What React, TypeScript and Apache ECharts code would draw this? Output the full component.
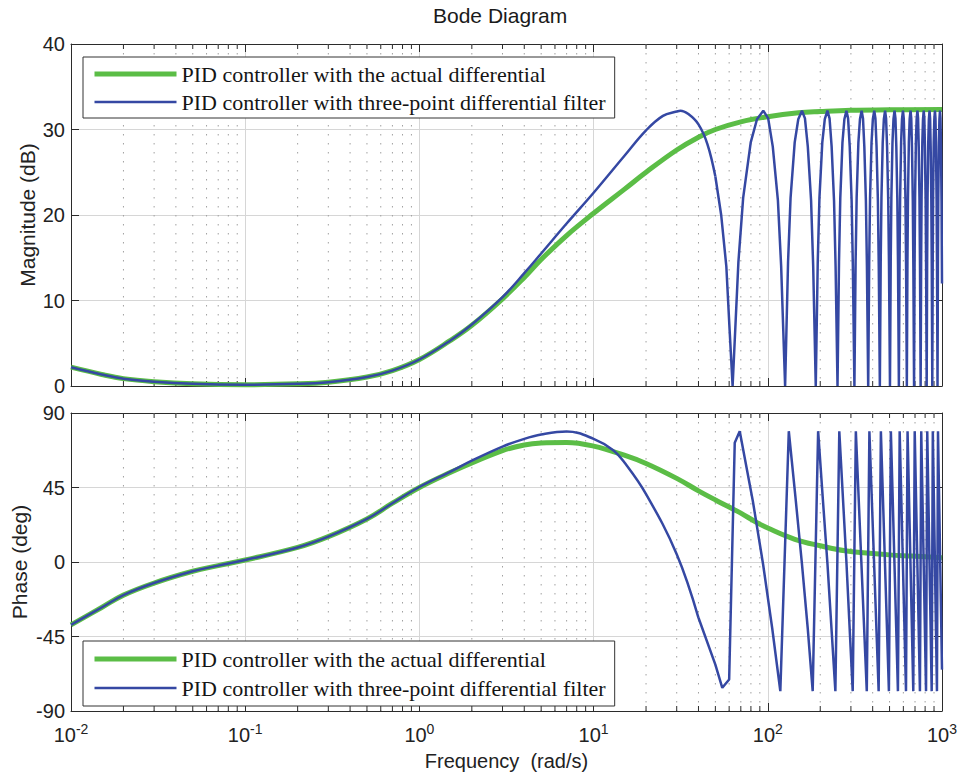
import React, { useEffect, useRef } from 'react';
import * as echarts from 'echarts';

const chartTitle = 'Bode Diagram';
const nameGreen = 'PID controller with the actual differential';
const nameBlue = 'PID controller with three-point differential filter';
const xAxisName = 'Frequency  (rad/s)';
const magAxisName = 'Magnitude (dB)';
const phaseAxisName = 'Phase (deg)';

// Green: PID controller with the actual differential
const greenMagFreq = [0.01, 0.015, 0.02, 0.03, 0.05, 0.1, 0.2, 0.3, 0.5, 0.7, 1, 1.5, 2, 3, 4, 5, 7, 10, 15, 20, 30, 40, 50, 70, 100, 150, 200, 300, 500, 1000];
const greenMagDb = [2.2, 1.35, 0.86, 0.5, 0.25, 0.15, 0.25, 0.45, 1.05, 1.8, 3.1, 5.3, 7.1, 10.2, 12.7, 14.8, 17.6, 20.2, 23.0, 25.0, 27.6, 29.1, 30.0, 30.9, 31.5, 31.95, 32.1, 32.25, 32.3, 32.35];

const greenPhaseFreq = [0.01, 0.015, 0.02, 0.03, 0.05, 0.07, 0.1, 0.2, 0.3, 0.5, 0.7, 1, 1.5, 2, 3, 4, 5, 7, 10, 15, 20, 30, 40, 50, 63, 70, 86, 100, 143, 200, 278, 500, 670, 1000];
const greenPhaseDeg = [-38, -27.5, -20, -12.7, -5.6, -2.2, 1.2, 8.8, 15.3, 26, 35.5, 45, 54, 59.8, 67.3, 70.7, 71.9, 72.2, 70, 64.5, 59.5, 50.5, 43, 37.5, 32, 29.5, 24, 20.5, 13.7, 9.8, 6.8, 4.3, 3.6, 2.6];

// Blue: PID controller with three-point differential filter (smooth low-frequency part)
const blueMagLowFreq = [0.01, 0.015, 0.02, 0.03, 0.05, 0.1, 0.2, 0.3, 0.5, 0.7, 1, 1.5, 2, 3, 4, 5, 7, 10, 15, 20, 25, 30, 31.5, 35, 40, 45, 50];
const blueMagLowDb = [2.2, 1.35, 0.86, 0.5, 0.25, 0.15, 0.25, 0.45, 1.05, 1.8, 3.1, 5.3, 7.2, 10.4, 13.2, 15.5, 19.0, 22.6, 26.9, 29.9, 31.6, 32.1, 32.2, 31.8, 30.6, 28.3, 24.5];

// Blue: oscillating high-frequency part
const blueMagHighFreq = [
  50, 54, 57.8, 60.2,
  62.8, 67.8, 72.2, 79.8, 86.7, 94.2, 100.5, 106.8, 114.3, 119.3,
  125.7, 130.7, 135.1, 142.7, 149.6, 157.1, 163.4, 169.7, 177.2, 182.2,
  188.5, 193.5, 197.9, 205.5, 212.4, 219.9, 226.2, 232.5, 240, 245,
  251.3, 256.3, 260.7, 268.3, 275.2, 282.7, 289, 295.3, 302.8, 307.8,
  314.2, 319.2, 323.6, 331.2, 338.1, 345.6, 351.9, 358.2, 365.7, 370.7,
  377, 382, 386.4, 394, 400.9, 408.4, 414.7, 421, 428.5, 433.5,
  439.8, 444.8, 449.2, 456.8, 463.7, 471.2, 477.5, 483.8, 491.3, 496.3,
  502.7, 507.7, 512.1, 519.7, 526.6, 534.1, 540.4, 546.7, 554.2, 559.2,
  565.5, 570.5, 574.9, 582.5, 589.4, 596.9, 603.2, 609.5, 617, 622,
  628.3, 633.3, 637.7, 645.3, 652.2, 659.7, 666, 672.3, 679.8, 684.8,
  691.2, 696.2, 700.6, 708.2, 715.1, 722.6, 728.9, 735.2, 742.7, 747.7,
  754, 759, 763.4, 771, 777.9, 785.4, 791.7, 798, 805.5, 810.5,
  816.8, 821.8, 826.2, 833.8, 840.7, 848.2, 854.5, 860.8, 868.3, 873.3,
  879.6, 884.6, 889, 896.6, 903.5, 911, 917.3, 923.6, 931.1, 936.1,
  942.5, 947.5, 951.9, 959.5, 966.4, 973.9, 980.2, 986.5, 994, 1000,
];
const blueMagHighDb = [
  24.5, 20, 14, 7,
  0, 14.5, 22, 28.5, 31.2, 32.2, 31.3, 28, 21.7, 14,
  0, 14.5, 22, 28.5, 31.2, 32.2, 31.3, 28, 21.7, 14,
  0, 14.5, 22, 28.5, 31.2, 32.2, 31.3, 28, 21.7, 14,
  0, 14.5, 22, 28.5, 31.2, 32.2, 31.3, 28, 21.7, 14,
  0, 14.5, 22, 28.5, 31.2, 32.2, 31.3, 28, 21.7, 14,
  0, 14.5, 22, 28.5, 31.2, 32.2, 31.3, 28, 21.7, 14,
  0, 14.5, 22, 28.5, 31.2, 32.2, 31.3, 28, 21.7, 14,
  0, 14.5, 22, 28.5, 31.2, 32.2, 31.3, 28, 21.7, 14,
  0, 14.5, 22, 28.5, 31.2, 32.2, 31.3, 28, 21.7, 14,
  0, 14.5, 22, 28.5, 31.2, 32.2, 31.3, 28, 21.7, 14,
  0, 14.5, 22, 28.5, 31.2, 32.2, 31.3, 28, 21.7, 14,
  0, 14.5, 22, 28.5, 31.2, 32.2, 31.3, 28, 21.7, 14,
  0, 14.5, 22, 28.5, 31.2, 32.2, 31.3, 28, 21.7, 14,
  0, 14.5, 22, 28.5, 31.2, 32.2, 31.3, 28, 21.7, 14,
  0, 14.5, 22, 28.5, 31.2, 32.2, 31.3, 28, 21.7, 12,
];

const bluePhaseLowFreq = [0.01, 0.015, 0.02, 0.03, 0.05, 0.07, 0.1, 0.2, 0.3, 0.5, 0.7, 1, 1.5, 2, 3, 4, 5, 7, 10, 12.9, 15, 20, 30, 40];
const bluePhaseLowDeg = [-38, -27.5, -20, -12.7, -5.6, -2.2, 1.2, 8.8, 15.3, 26, 35.5, 45.3, 54.5, 61.2, 69.7, 74.4, 77, 78.8, 74.4, 67.7, 60.2, 41, 4.7, -33.7];

const bluePhaseHighFreq = [
  40, 50, 54.8, 60, 64.6,
  69, 82, 94, 106, 118,
  132, 144.5, 157, 169.5, 181,
  194.5, 207, 220, 232, 244.3,
  257.3, 282.7, 307.2,
  320.2, 370, 383, 432.8, 445.8, 495.7, 508.7, 558.5, 571.5, 621.3, 634.3, 684.2, 697.2, 747,
  760, 809.8, 822.8, 872.6, 885.6, 935.5, 948.5, 1000,
];
const bluePhaseHighDeg = [
  -33.7, -62, -76, -71, 72,
  79, 37, -1.5, -40, -78,
  79, 38, -1, -40, -78,
  79, 38, -1, -40, -78,
  79, 0, -78,
  79, -78, 79, -78, 79, -78, 79, -78, 79, -78, 79, -78, 79, -78,
  79, -78, 79, -78, 79, -78, 79, -65,
];

// minor (2..9 per decade) grid positions
const minorFreqs = [
  0.02, 0.03, 0.04, 0.05, 0.06, 0.07, 0.08, 0.09,
  0.2, 0.3, 0.4, 0.5, 0.6, 0.7, 0.8, 0.9,
  2, 3, 4, 5, 6, 7, 8, 9,
  20, 30, 40, 50, 60, 70, 80, 90,
  200, 300, 400, 500, 600, 700, 800, 900,
];

const GREEN = '#5bbd46';
const BLUE = '#3548a3';
const AXIS = '#2b2b2b';
const SANS = "'Liberation Sans', Arial, Helvetica, sans-serif";
const SERIF = "'Liberation Serif', 'Times New Roman', serif";

const zip = (a: number[], b: number[]) => a.map((v, i) => [v, b[i]]);

function xAxisDef(gridIndex: number, position: 'top' | 'bottom', withLabels: boolean): any {
  return {
    type: 'log',
    logBase: 10,
    gridIndex,
    position,
    min: 0.01,
    max: 1000,
    splitNumber: 5,
    axisLine: { show: true, onZero: false, lineStyle: { color: AXIS, width: 1 } },
    axisTick: { show: true, inside: true, length: 8, lineStyle: { color: AXIS, width: 1 } },
    axisLabel: withLabels
      ? {
          show: true,
          margin: 11,
          color: '#222',
          formatter: (v: number) => '{b|10}{s|' + Math.round(Math.log10(v)) + '}',
          rich: {
            b: { fontSize: 20, fontFamily: SANS, color: '#222', lineHeight: 26 },
            s: { fontSize: 14, fontFamily: SANS, color: '#222', lineHeight: 14, verticalAlign: 'top' },
          },
        }
      : { show: false },
    splitLine: { show: position === 'bottom', lineStyle: { color: '#d6d6d6', width: 1 } },
    name: withLabels ? xAxisName : '',
    nameLocation: 'middle',
    nameGap: 40,
    nameTextStyle: { fontSize: 20, fontFamily: SANS, color: '#222' },
  };
}

function yAxisDef(gridIndex: number, position: 'left' | 'right', min: number, max: number, interval: number, name: string, nameGap: number): any {
  const left = position === 'left';
  return {
    type: 'value',
    gridIndex,
    position,
    min,
    max,
    interval,
    axisLine: { show: true, onZero: false, lineStyle: { color: AXIS, width: 1 } },
    axisTick: { show: true, inside: true, length: 8, lineStyle: { color: AXIS, width: 1 } },
    axisLabel: left ? { show: true, margin: 6, fontSize: 20, fontFamily: SANS, color: '#222' } : { show: false },
    splitLine: { show: left, lineStyle: { color: '#d6d6d6', width: 1 } },
    name: left ? name : '',
    nameLocation: 'middle',
    nameGap,
    nameMoveOverlap: false,
    nameTextStyle: { fontSize: 21, fontFamily: SANS, color: '#222' },
  };
}

function minorGrid(xAxisIndex: number, yAxisIndex: number, yMin: number, yMax: number): any {
  return {
    type: 'custom',
    xAxisIndex,
    yAxisIndex,
    silent: true,
    z: 1,
    clip: false,
    encode: { x: 0, y: 1 },
    data: minorFreqs.map((f) => [f, yMin]),
    renderItem: (_params: any, api: any) => {
      const f = api.value(0);
      const top = api.coord([f, yMax]);
      const bot = api.coord([f, yMin]);
      return {
        type: 'group',
        children: [
          { type: 'line', shape: { x1: top[0], y1: top[1], x2: bot[0], y2: bot[1] }, style: { stroke: '#a0a0a0', lineWidth: 1, lineDash: [1.5, 7.5] } },
          { type: 'line', shape: { x1: top[0], y1: top[1], x2: top[0], y2: top[1] + 5 }, style: { stroke: AXIS, lineWidth: 1 } },
          { type: 'line', shape: { x1: bot[0], y1: bot[1] - 5, x2: bot[0], y2: bot[1] }, style: { stroke: AXIS, lineWidth: 1 } },
        ],
      };
    },
  };
}

function legendDef(top: number, padding: number[], gap: number): any {
  return {
    orient: 'vertical',
    left: 83,
    top,
    padding,
    itemGap: gap,
    itemWidth: 82,
    itemHeight: 14,
    align: 'left',
    backgroundColor: '#ffffff',
    borderColor: '#333333',
    borderWidth: 1,
    borderRadius: 0,
    selectedMode: false,
    textStyle: { fontSize: 22, fontFamily: SERIF, color: '#151515', lineHeight: 22 },
    data: [
      { name: nameGreen, lineStyle: { width: 5, color: GREEN }, itemStyle: { color: GREEN, opacity: 0, borderWidth: 0 } },
      { name: nameBlue, lineStyle: { width: 2.5, color: BLUE }, itemStyle: { color: BLUE, opacity: 0, borderWidth: 0 } },
    ],
    z: 10,
  };
}

function lineSeries(name: string, xi: number, color: string, width: number, z: number, data: number[][], smooth: number | boolean): any {
  return {
    name, type: 'line', xAxisIndex: xi, yAxisIndex: xi, symbol: 'none', showSymbol: false, z,
    smooth,
    lineStyle: { width, color }, itemStyle: { color },
    data,
  };
}

const option: any = {
  animation: false,
  backgroundColor: '#ffffff',
  title: {
    text: chartTitle,
    left: 433,
    top: 5,
    padding: 0,
    textStyle: { fontSize: 21, fontWeight: 'normal', fontFamily: SANS, color: '#1a1a1a' },
  },
  legend: [legendDef(57, [6, 9, 5, 9], 6), legendDef(641, [7, 9, 7, 9], 7)],
  grid: [
    { left: 71, top: 44, width: 871, height: 342 },
    { left: 71, top: 413, width: 871, height: 298 },
  ],
  xAxis: [
    xAxisDef(0, 'bottom', false),
    xAxisDef(0, 'top', false),
    xAxisDef(1, 'bottom', true),
    xAxisDef(1, 'top', false),
  ],
  yAxis: [
    yAxisDef(0, 'left', 0, 40, 10, magAxisName, 33),
    yAxisDef(0, 'right', 0, 40, 10, '', 0),
    yAxisDef(1, 'left', -90, 90, 45, phaseAxisName, 41),
    yAxisDef(1, 'right', -90, 90, 45, '', 0),
  ],
  series: [
    minorGrid(0, 0, 0, 40),
    minorGrid(2, 2, -90, 90),
    lineSeries(nameGreen, 0, GREEN, 5, 3, zip(greenMagFreq, greenMagDb), 0.4),
    lineSeries(nameBlue, 0, BLUE, 2.5, 4, zip(blueMagLowFreq, blueMagLowDb), 0.4),
    lineSeries(nameBlue, 0, BLUE, 2.5, 4, zip(blueMagHighFreq, blueMagHighDb), false),
    lineSeries(nameGreen, 2, GREEN, 5, 3, zip(greenPhaseFreq, greenPhaseDeg), 0.4),
    lineSeries(nameBlue, 2, BLUE, 2.5, 4, zip(bluePhaseLowFreq, bluePhaseLowDeg), 0.4),
    lineSeries(nameBlue, 2, BLUE, 2.5, 4, zip(bluePhaseHighFreq, bluePhaseHighDeg), false),
  ],
};

export default function App() {
  const ref = useRef<HTMLDivElement>(null);
  useEffect(() => {
    if (!ref.current) return;
    const chart = echarts.init(ref.current, null, { renderer: 'svg' });
    chart.setOption(option);
    return () => chart.dispose();
  }, []);
  return <div ref={ref} style={{ position: 'absolute', left: 0, top: 0, width: 965, height: 781 }} />;
}
